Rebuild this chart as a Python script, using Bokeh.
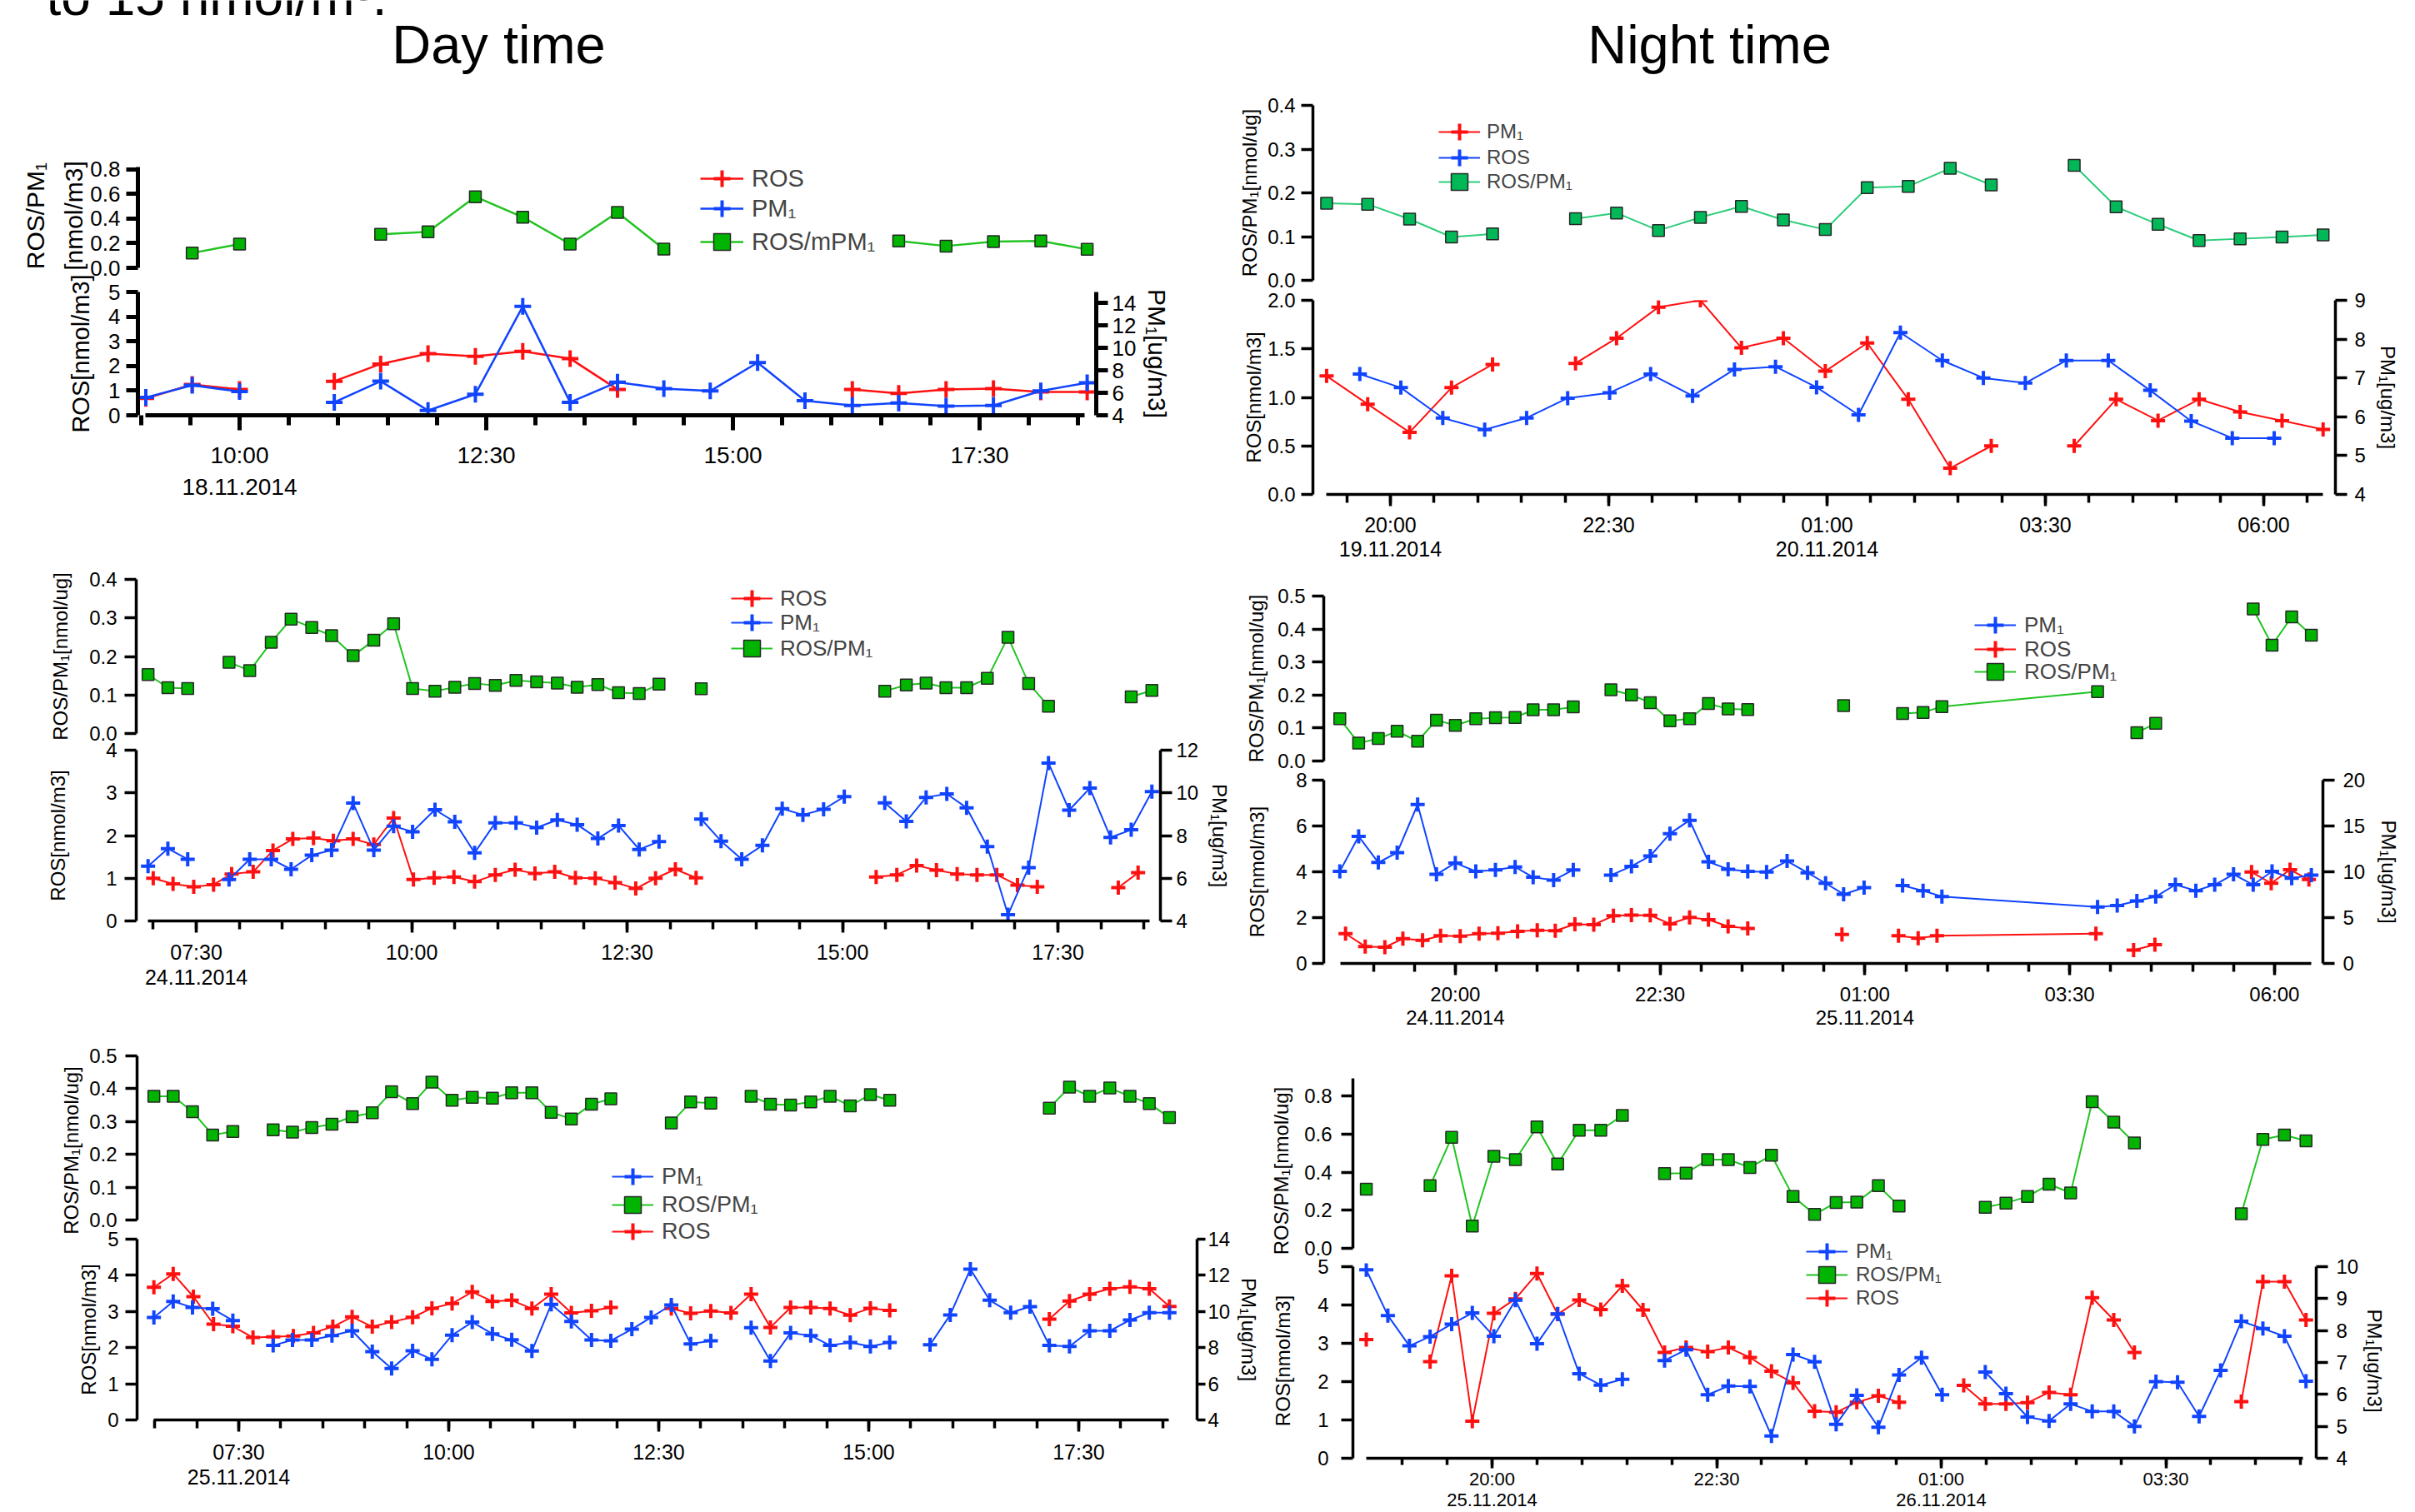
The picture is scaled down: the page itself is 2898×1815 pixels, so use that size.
import numpy as np
from bokeh.plotting import figure
from bokeh.models import (Range1d, LinearAxis, FixedTicker, PrintfTickFormatter,
                          Legend, LegendItem, Grid)
from bokeh.layouts import column, row
from bokeh.embed import file_html
from bokeh.resources import INLINE
from bokeh.core.properties import value

FONT = "Liberation Sans"
RED = "#ff1010"
BLUE = "#1044ff"
GREEN_LINE = "#22c422"
GREEN_FILL = "#00b400"
TEAL_LINE = "#2ccd7a"
TEAL_FILL = "#00b858"
EDGE = "#262626"

# ------------------------------------------------------------------ data
# times are clock hours; night values past midnight continue at 24+h
# --- 18.11.2014 (day)
A_t_ros = [9.05, 9.52, 10.00, None, 10.96, 11.43, 11.91, 12.39, 12.87, 13.35, 13.83, None,
           16.21, 16.68, 17.16, 17.64, 18.12, 18.59]
A_ros = [0.68, 1.25, 1.05, None, 1.38, 2.08, 2.50, 2.39, 2.59, 2.30, 1.05, None,
         1.05, 0.89, 1.05, 1.08, 0.95, 0.95]
A_t_pm = [9.05, 9.52, 10.00, None, 10.96, 11.43, 11.91, 12.39, 12.87, 13.35, 13.83, 14.30,
          14.77, 15.25, 15.73, 16.21, 16.68, 17.16, 17.64, 18.12, 18.59]
A_pm = [5.59, 6.67, 6.12, None, 5.16, 7.04, 4.43, 5.88, 13.71, 5.16, 6.96, 6.38,
        6.17, 8.70, 5.30, 4.87, 5.10, 4.81, 4.87, 6.17, 6.90]
A_t_ratio = [9.52, 10.00, None, 11.43, 11.91, 12.39, 12.87, 13.35, 13.83, 14.30, None,
             16.68, 17.16, 17.64, 18.12, 18.59]
A_ratio = [0.121, 0.193, None, 0.272, 0.293, 0.578, 0.412, 0.193, 0.451, 0.153, None,
           0.219, 0.177, 0.214, 0.219, 0.150]

# --- 19./20.11.2014 (night)
B_t_ros = [19.27, 19.74, 20.22, 20.70, 21.17, None, 22.12, 22.59, 23.07, 23.55, 24.02, 24.50,
           24.98, 25.46, 25.93, 26.41, 26.88, None, 27.83, 28.31, 28.79, 29.26, 29.73, 30.21, 30.68]
B_ros = [1.22, 0.93, 0.64, 1.10, 1.34, None, 1.35, 1.61, 1.93, 2.00, 1.51, 1.61,
         1.27, 1.56, 0.98, 0.27, 0.50, None, 0.50, 0.98, 0.76, 0.98, 0.85, 0.76, 0.67]
B_t_pm = [19.65, 20.12, 20.60, 21.08, 21.56, 22.03, 22.51, 22.98, 23.46, 23.94, 24.41, 24.88,
          25.36, 25.84, 26.32, 26.79, 27.27, 27.74, 28.22, 28.70, 29.17, 29.64, 30.12]
B_pm = [7.10, 6.75, 5.97, 5.67, 5.97, 6.48, 6.62, 7.10, 6.54, 7.22, 7.29, 6.76,
        6.05, 8.17, 7.45, 7.00, 6.87, 7.45, 7.45, 6.68, 5.89, 5.45, 5.45]
B_t_ratio = [19.27, 19.74, 20.22, 20.70, 21.17, None, 22.12, 22.59, 23.07, 23.55, 24.02, 24.50,
             24.98, 25.46, 25.93, 26.41, 26.88, None, 27.83, 28.31, 28.79, 29.26, 29.73, 30.21, 30.68]
B_ratio = [0.176, 0.174, 0.140, 0.099, 0.106, None, 0.141, 0.154, 0.114, 0.144, 0.169, 0.138,
           0.116, 0.212, 0.215, 0.256, 0.218, None, 0.263, 0.168, 0.128, 0.091, 0.095, 0.099, 0.104]

# --- 24.11.2014 (day)
C_t_ros = [7.00, 7.23, 7.47, 7.70, 7.91, 8.16, 8.39, 8.62, 8.86, 9.09, 9.32, 9.56, 9.79, 10.02,
           10.26, 10.49, 10.73, 10.97, 11.20, 11.43, 11.66, 11.90, 12.13, 12.36, 12.60, 12.83,
           13.06, 13.30, None, 15.39, 15.63, 15.86, 16.09, 16.33, 16.56, 16.79, 17.03, 17.26,
           None, 18.20, 18.43]
C_ros = [1.00, 0.87, 0.80, 0.85, 1.10, 1.15, 1.65, 1.92, 1.94, 1.88, 1.92, 1.79, 2.41, 0.97,
         1.01, 1.03, 0.92, 1.08, 1.20, 1.11, 1.15, 1.01, 1.00, 0.90, 0.76, 1.00,
         1.21, 1.01, None, 1.03, 1.08, 1.30, 1.19, 1.10, 1.08, 1.08, 0.84, 0.80,
         None, 0.78, 1.13]
C_t_pm = [6.94, 7.17, 7.40, None, 7.88, 8.12, 8.37, 8.60, 8.84, 9.07, 9.32, 9.56, 9.79, 10.01,
          10.27, 10.50, 10.73, 10.97, 11.21, 11.45, 11.69, 11.92, 12.16, 12.40, 12.64, 12.87,
          None, 13.36, 13.59, 13.83, 14.07, 14.30, 14.54, 14.78, 15.02, None, 15.49, 15.74,
          15.97, 16.21, 16.44, 16.68, 16.92, 17.16, 17.39, 17.63, 17.87, 18.11, 18.35, 18.59]
C_pm = [6.57, 7.39, 6.89, None, 5.94, 6.89, 6.89, 6.42, 7.08, 7.32, 9.52, 7.32, 8.44, 8.18,
        9.21, 8.64, 7.19, 8.60, 8.60, 8.37, 8.73, 8.51, 7.86, 8.47, 7.35, 7.72,
        None, 8.77, 7.74, 6.89, 7.54, 9.26, 8.97, 9.23, 9.82, None, 9.53, 8.66,
        9.79, 9.95, 9.30, 7.48, 4.29, 6.50, 11.40, 9.19, 10.22, 7.91, 8.27, 10.06]
C_t_ratio = [6.94, 7.17, 7.40, None, 7.88, 8.12, 8.37, 8.60, 8.84, 9.07, 9.32, 9.56, 9.79, 10.01,
             10.27, 10.50, 10.73, 10.97, 11.21, 11.45, 11.69, 11.92, 12.16, 12.40, 12.64, 12.87,
             None, 13.36, None, 15.49, 15.74, 15.97, 16.20, 16.44, 16.68, 16.92, 17.16, 17.39,
             None, 18.35, 18.59]
C_ratio = [0.153, 0.119, 0.117, None, 0.185, 0.163, 0.237, 0.297, 0.275, 0.254, 0.202, 0.242,
           0.285, 0.117, 0.110, 0.120, 0.130, 0.125, 0.138, 0.134, 0.131, 0.120, 0.127, 0.106,
           0.104, 0.128, None, 0.116, None, 0.110, 0.126, 0.131, 0.119, 0.119, 0.143, 0.250,
           0.130, 0.071, None, 0.095, 0.112]

# --- 24./25.11.2014 (night)
D_t_ros = [18.66, 18.90, 19.14, 19.36, 19.60, 19.82, 20.06, 20.29, 20.52, 20.76, 21.00, 21.22,
           21.46, 21.69, 21.93, 22.15, 22.38, 22.62, 22.86, 23.09, 23.33, 23.57, None, 24.72,
           None, 25.41, 25.65, 25.88, 27.82, None, 28.28, 28.54, None, 29.72, 29.96, 30.19, 30.42]
D_ros = [1.30, 0.74, 0.71, 1.08, 1.01, 1.21, 1.19, 1.30, 1.32, 1.40, 1.45, 1.43,
         1.71, 1.69, 2.08, 2.11, 2.10, 1.73, 2.01, 1.91, 1.62, 1.53, None, 1.26,
         None, 1.21, 1.10, 1.21, 1.30, None, 0.58, 0.82, None, 3.99, 3.50, 4.09, 3.66]
D_t_pm = [18.59, 18.82, 19.06, 19.29, 19.54, 19.77, 20.00, 20.25, 20.49, 20.73, 20.95, 21.20,
          21.44, None, 21.90, 22.15, 22.38, 22.62, 22.86, 23.09, 23.33, 23.57, 23.80, 24.05,
          24.30, 24.52, 24.74, 24.99, None, 25.46, 25.71, 25.94, 27.84, 28.08, 28.32, 28.55,
          28.79, 29.04, 29.27, 29.50, 29.74, 29.97, 30.21, 30.45]
D_pm = [10.05, 13.87, 11.02, 12.09, 17.34, 9.72, 10.96, 10.05, 10.21, 10.53, 9.40, 9.08,
        10.21, None, 9.63, 10.60, 11.73, 14.17, 15.62, 11.09, 10.28, 10.05, 9.98, 11.18,
        9.89, 8.75, 7.55, 8.27, None, 8.49, 7.94, 7.29, 6.16, 6.32, 6.81, 7.29,
        8.59, 7.94, 8.59, 9.72, 8.59, 10.05, 9.30, 9.63]
D_t_ratio = [18.59, 18.82, 19.06, 19.29, 19.54, 19.77, 20.00, 20.25, 20.49, 20.73, 20.95, 21.20,
             21.44, None, 21.90, 22.15, 22.38, 22.62, 22.86, 23.09, 23.33, 23.57, None, 24.74,
             None, 25.46, 25.71, 25.94, 27.84, None, 28.32, 28.55, None, 29.74, 29.97, 30.21, 30.45]
D_ratio = [0.128, 0.054, 0.068, 0.090, 0.060, 0.124, 0.108, 0.128, 0.131, 0.132, 0.155, 0.155,
           0.164, None, 0.216, 0.200, 0.177, 0.122, 0.128, 0.174, 0.158, 0.156, None, 0.168,
           None, 0.144, 0.147, 0.165, 0.210, None, 0.086, 0.114, None, 0.461, 0.351, 0.437, 0.381]

# --- 25.11.2014 (day)
E_t_ros = [6.49, 6.72, 6.96, 7.20, 7.43, 7.67, 7.91, 8.15, 8.39, 8.62, 8.85, 9.09, 9.32, 9.57,
           9.80, 10.04, 10.28, 10.52, 10.75, 10.99, 11.22, 11.46, 11.70, 11.93, None, 12.65,
           12.88, 13.12, 13.36, 13.60, 13.83, 14.07, 14.31, 14.54, 14.78, 15.02, 15.25, None,
           17.15, 17.39, 17.63, 17.87, 18.11, 18.34, 18.58]
E_ros = [3.67, 4.04, 3.41, 2.65, 2.59, 2.28, 2.30, 2.32, 2.41, 2.58, 2.85, 2.58, 2.71, 2.84,
         3.09, 3.22, 3.54, 3.28, 3.31, 3.08, 3.48, 2.96, 3.02, 3.11, None, 3.08,
         2.95, 3.01, 2.96, 3.48, 2.56, 3.11, 3.11, 3.08, 2.90, 3.09, 3.03, None,
         2.79, 3.29, 3.48, 3.63, 3.68, 3.63, 3.14]
E_t_pm = [6.49, 6.72, 6.95, 7.19, 7.43, None, 7.91, 8.14, 8.37, 8.61, 8.85, 9.09, 9.32, 9.57,
          9.80, 10.04, 10.28, 10.52, 10.75, 10.99, 11.22, 11.46, 11.70, 11.93, 12.18, 12.41,
          12.65, 12.88, 13.12, None, 13.60, 13.83, 14.07, 14.31, 14.54, 14.78, 15.02, 15.25,
          None, 15.73, 15.97, 16.21, 16.44, 16.69, 16.92, 17.15, 17.39, 17.63, 17.87, 18.11,
          18.34, 18.58]
E_pm = [9.67, 10.56, 10.22, 10.15, 9.50, None, 8.12, 8.42, 8.42, 8.67, 8.93, 7.78, 6.84, 7.83,
        7.35, 8.69, 9.41, 8.76, 8.43, 7.81, 10.39, 9.45, 8.42, 8.38, 9.02, 9.67,
        10.36, 8.21, 8.38, None, 9.10, 7.26, 8.81, 8.67, 8.12, 8.29, 8.07, 8.29,
        None, 8.16, 9.81, 12.34, 10.62, 9.93, 10.27, 8.12, 8.07, 8.93, 8.93, 9.53,
        9.93, 9.93]
E_t_ratio = [6.49, 6.72, 6.95, 7.19, 7.43, None, 7.91, 8.14, 8.37, 8.61, 8.85, 9.09, 9.32, 9.57,
             9.80, 10.04, 10.28, 10.52, 10.75, 10.99, 11.22, 11.46, 11.70, 11.93, None, 12.65,
             12.88, 13.12, None, 13.60, 13.83, 14.07, 14.31, 14.54, 14.78, 15.02, 15.25, None,
             17.15, 17.39, 17.63, 17.87, 18.11, 18.34, 18.58]
E_ratio = [0.377, 0.377, 0.330, 0.259, 0.270, None, 0.275, 0.268, 0.282, 0.292, 0.315, 0.327,
           0.391, 0.355, 0.420, 0.365, 0.374, 0.371, 0.388, 0.388, 0.328, 0.308, 0.353, 0.369,
           None, 0.296, 0.360, 0.356, None, 0.377, 0.353, 0.350, 0.360, 0.377, 0.348, 0.382,
           0.365, None, 0.341, 0.405, 0.377, 0.402, 0.377, 0.355, 0.312]

# --- 25./26.11.2014 (night)
F_t_ros = [18.60, None, 19.31, 19.55, 19.78, 20.02, 20.26, 20.50, 20.73, 20.97, 21.21, 21.45,
           21.68, 21.92, 22.16, 22.40, 22.63, 22.87, 23.11, 23.35, 23.59, 23.83, 24.06, 24.30,
           24.53, None, 25.25, 25.49, 25.72, 25.96, 26.20, 26.44, 26.68, 26.92, 27.15, None,
           28.34, 28.58, 28.82, 29.06]
F_ros = [3.10, None, 2.52, 4.76, 0.97, 3.78, 4.16, 4.82, 3.76, 4.13, 3.88, 4.50,
         3.87, 2.76, 2.89, 2.78, 2.89, 2.63, 2.27, 1.97, 1.23, 1.20, 1.46, 1.63,
         1.46, None, 1.90, 1.42, 1.42, 1.45, 1.72, 1.66, 4.19, 3.61, 2.76, None,
         1.48, 4.61, 4.61, 3.61]
F_t_pm = [18.60, 18.84, 19.08, 19.31, 19.55, 19.78, 20.02, 20.26, 20.50, 20.73, 20.97, 21.21,
          21.45, None, 21.92, 22.16, 22.40, 22.63, 22.87, 23.11, 23.35, 23.59, 23.83, 24.06,
          24.30, 24.53, 24.78, 25.01, None, 25.49, 25.72, 25.96, 26.20, 26.44, 26.68, 26.92,
          27.15, 27.39, 27.63, 27.87, 28.11, 28.34, 28.58, 28.82, 29.06]
F_pm = [9.90, 8.47, 7.52, 7.81, 8.20, 8.55, 7.82, 8.95, 7.59, 8.52, 6.65, 6.29,
        6.47, None, 7.06, 7.40, 5.99, 6.26, 6.25, 4.70, 7.25, 7.02, 5.06, 5.97,
        4.97, 6.61, 7.15, 5.99, None, 6.70, 6.02, 5.29, 5.17, 5.70, 5.47, 5.47,
        5.00, 6.40, 6.38, 5.31, 6.75, 8.29, 8.06, 7.82, 6.41]
F_t_ratio = [18.60, None, 19.31, 19.55, 19.78, 20.02, 20.26, 20.50, 20.73, 20.97, 21.21, 21.45,
             None, 21.92, 22.16, 22.40, 22.63, 22.87, 23.11, 23.35, 23.59, 23.83, 24.06, 24.30,
             24.53, None, 25.49, 25.72, 25.96, 26.20, 26.44, 26.68, 26.92, 27.15, None,
             28.34, 28.58, 28.82, 29.06]
F_ratio = [0.311, None, 0.329, 0.583, 0.117, 0.484, 0.466, 0.638, 0.443, 0.621, 0.621, 0.698,
           None, 0.393, 0.395, 0.466, 0.466, 0.425, 0.489, 0.273, 0.178, 0.241, 0.243, 0.329,
           0.222, None, 0.216, 0.238, 0.272, 0.337, 0.291, 0.770, 0.663, 0.554, None,
           0.182, 0.572, 0.595, 0.565]

# tick labels
DAY_MAJ = [7.5, 10.0, 12.5, 15.0, 17.5]
NIGHT_MAJ = [20.0, 22.5, 25.0, 27.5, 30.0]
A_xlab = ["10:00\n18.11.2014", "12:30", "15:00", "17:30"]
B_xlab = ["20:00\n19.11.2014", "22:30", "01:00\n20.11.2014", "03:30", "06:00"]
C_xlab = ["07:30\n24.11.2014", "10:00", "12:30", "15:00", "17:30"]
D_xlab = ["20:00\n24.11.2014", "22:30", "01:00\n25.11.2014", "03:30", "06:00"]
E_xlab = ["07:30\n25.11.2014", "10:00", "12:30", "15:00", "17:30"]
F_xlab = ["20:00\n25.11.2014", "22:30", "01:00\n26.11.2014", "03:30"]

GH = 50  # legend glyph box height


def arr(v):
    return np.array([np.nan if x is None else float(x) for x in v])


def steps(a, b, step):
    n = int(round((b - a) / step))
    return [round(a + i * step, 4) for i in range(n + 1)]


def clean(p):
    p.outline_line_color = None
    p.background_fill_alpha = 0
    p.border_fill_alpha = 0
    for g in p.select(type=Grid):
        g.visible = False


def style_y(ax, c, ticks, fmt, label, fs_label, std, bounds, tick_out=None, lh=1.2):
    ax.ticker = FixedTicker(ticks=ticks)
    ax.formatter = PrintfTickFormatter(format=fmt)
    ax.bounds = bounds
    ax.axis_label = label
    ax.axis_line_width = c["lw"]
    ax.axis_line_color = "black"
    ax.major_tick_line_width = c["lw"]
    ax.major_tick_line_color = "black"
    ax.major_tick_out = c["ytick"] if tick_out is None else tick_out
    ax.major_tick_in = 0
    ax.minor_tick_line_color = None
    ax.major_label_text_font = FONT
    ax.major_label_text_font_size = f"{c['yfs']}px"
    ax.major_label_text_color = "black"
    ax.major_label_standoff = std[0]
    ax.axis_label_text_font = FONT
    ax.axis_label_text_font_size = f"{fs_label}px"
    ax.axis_label_text_font_style = "normal"
    ax.axis_label_text_color = "black"
    ax.axis_label_standoff = std[1]
    ax.axis_label_text_line_height = lh


def dummies(host, kind, c):
    gl, gf = c["green"]
    nanv = [np.nan]
    if kind == "ratio":
        return [host.line(nanv, nanv, line_color=gl, line_width=c["lwd"]),
                host.scatter(nanv, nanv, marker="square", size=10, fill_color=gf,
                             line_color=EDGE, line_width=1.5)]
    col = RED if kind == "ros" else BLUE
    return [host.line(nanv, nanv, line_color=col, line_width=c["lwd"]),
            host.scatter(nanv, nanv, marker="cross", size=10, line_color=col, line_width=4)]


def build(c, d):
    t_ros, ros, t_pm, pmv, t_rat, rat = (arr(v) for v in d)
    xr = Range1d(*c["xr"])
    gl, gf = c["green"]

    # ---- upper panel: ROS / PM1 ratio
    pr = figure(width=c["w"], height=c["rh"], x_range=xr, y_range=Range1d(*c["rat_rng"]),
                x_axis_location=None, toolbar_location=None, output_backend="svg",
                min_border_left=c["bl"], min_border_right=c["br"],
                min_border_top=c["rt"], min_border_bottom=c["rb"])
    clean(pr)
    style_y(pr.yaxis[0], c, c["rat_ticks"], "%.1f", c["rat_label"], c["rlfs"], c["rat_std"],
            c["rat_bounds"], lh=1.4)
    pr.line(t_rat, rat, line_color=gl, line_width=c["lwd"])
    pr.scatter(t_rat, rat, marker="square", size=c["sq"], fill_color=gf,
               line_color=EDGE, line_width=1.5)

    # ---- lower panel: ROS (left axis) and PM1 (right axis)
    pm = figure(width=c["w"], height=c["mh"], x_range=xr, y_range=Range1d(*c["ros_rng"]),
                toolbar_location=None, output_backend="svg",
                min_border_left=c["bl"], min_border_right=c["br"],
                min_border_top=c["mt"], min_border_bottom=c["mb"])
    pm.extra_y_ranges = {"pm": Range1d(*c["pm_rng"])}
    pm.margin = (-c["ov"], 0, 0, 0)
    clean(pm)
    style_y(pm.yaxis[0], c, c["ros_ticks"], c["ros_fmt"], "ROS[nmol/m3]", c["mlfs"],
            c["ros_std"], c["ros_bounds"])
    ax_r = LinearAxis(y_range_name="pm")
    style_y(ax_r, c, c["pm_ticks"], "%d", "PM₁[ug/m3]", c["plfs"], c["pm_std"],
            c["pm_bounds"], tick_out=c.get("pm_tick"))
    pm.add_layout(ax_r, "right")

    xa = pm.xaxis[0]
    xa.ticker = FixedTicker(ticks=c["xmaj"], minor_ticks=c["xmin"])
    xa.major_label_overrides = {float(k): v for k, v in zip(c["xmaj"], c["xlab"])}
    xa.bounds = c["xbounds"]
    xa.axis_line_width = c["lw"]
    xa.major_tick_line_width = c["lw"]
    xa.minor_tick_line_width = c["lw"]
    xa.major_tick_out = c["xmo"]
    xa.major_tick_in = 0
    xa.minor_tick_out = c["xmi"]
    xa.minor_tick_in = 0
    xa.major_label_text_font = FONT
    xa.major_label_text_font_size = f"{c['xfs']}px"
    xa.major_label_text_color = "black"
    xa.major_label_standoff = c["xstd"]
    xa.major_label_text_line_height = c["xlh"]

    pm.line(t_ros, ros, line_color=RED, line_width=c["lwd"])
    pm.scatter(t_ros, ros, marker="cross", size=c["cross"], line_color=RED, line_width=4)
    pm.line(t_pm, pmv, line_color=BLUE, line_width=c["lwd"], y_range_name="pm")
    pm.scatter(t_pm, pmv, marker="cross", size=c["cross"], line_color=BLUE, line_width=4,
               y_range_name="pm")

    # ---- legend: one entry per Legend so each sits where the reference has it
    lg = c["legend"]
    for label, kind, where, cy in lg["items"]:
        host = pr if where == "r" else pm
        fb = c["r_fb"] if where == "r" else c["m_fb"]
        item = LegendItem(label=value(label), renderers=dummies(host, kind, c))
        legend = Legend(items=[item], location=(lg["x"], fb - cy - GH / 2),
                        orientation="vertical", padding=0, margin=0, spacing=0,
                        glyph_width=lg["gw"], glyph_height=GH, label_standoff=lg["std"],
                        border_line_color=None, background_fill_alpha=0,
                        label_text_font=FONT, label_text_font_size=f"{lg['fs']}px")
        host.add_layout(legend, "center")
    return column(pr, pm)


COMMON = dict(lw=3.5, ytick=14, yfs=24, rlfs=24, mlfs=24, plfs=24, xmo=14, xmi=10, xfs=25,
              lwd=2, cross=17, sq=14, green=(GREEN_LINE, GREEN_FILL))

cfgA = dict(COMMON, w=1450, bl=165, br=135, rh=237, rt=96, rb=16, mh=356, mt=30, mb=178, ov=17,
            r_fb=321, m_fb=498, xr=(8.970, 18.682), xbounds=(9.046, 18.564),
            rat_rng=(0, 0.847), rat_bounds=(0, 0.82), rat_ticks=steps(0, 0.8, 0.2),
            rat_label="ROS/PM₁\n[nmol/m3]",
            ros_rng=(0, 5), ros_bounds=(0, 5), ros_ticks=steps(0, 5, 1), ros_fmt="%d",
            pm_rng=(4, 15), pm_bounds=(4, 15), pm_ticks=steps(4, 14, 2),
            lw=5, yfs=26, rlfs=30, mlfs=29, plfs=30, rat_std=(7, 0), ros_std=(7, 14), pm_std=(5, 6),
            xmaj=[10.0, 12.5, 15.0, 17.5], xlab=A_xlab, xmin=steps(9.0, 18.5, 0.5),
            xmo=18, xmi=12, xfs=28, xstd=14, xlh=1.25, lwd=2.5, cross=20,
            legend=dict(x=675, gw=52, std=10, fs=29,
                        items=[("ROS", "ros", "r", 214), ("PM₁", "pm", "r", 250),
                               ("ROS/mPM₁", "ratio", "r", 290)]))

cfgB = dict(COMMON, w=1448, bl=125, br=96, rh=252, rt=26, rb=16, mh=332, mt=16, mb=83, ov=8,
            r_fb=336, m_fb=593, xr=(19.113, 30.821), xbounds=(19.265, 30.678),
            rat_rng=(0, 0.4), rat_bounds=(0, 0.4), rat_ticks=steps(0, 0.4, 0.1),
            rat_label="ROS/PM₁[nmol/ug]",
            ros_rng=(0, 2), ros_bounds=(0, 2), ros_ticks=steps(0, 2, 0.5), ros_fmt="%.1f",
            pm_rng=(4, 9), pm_bounds=(4, 9), pm_ticks=steps(4, 9, 1),
            rat_std=(7, 5), ros_std=(7, 0), pm_std=(9, 10),
            xmaj=NIGHT_MAJ, xlab=B_xlab, xmin=steps(19.5, 30.5, 0.5), xstd=8, xlh=1.05,
            green=(TEAL_LINE, TEAL_FILL),
            legend=dict(x=151, gw=50, std=8, fs=24,
                        items=[("PM₁", "ros", "r", 158), ("ROS", "pm", "r", 189),
                               ("ROS/PM₁", "ratio", "r", 218)]))

cfgC = dict(COMMON, w=1485, bl=163, br=93, rh=220, rt=19, rb=16, mh=359, mt=16, mb=138, ov=12,
            r_fb=880, m_fb=1105, xr=(6.803, 18.689), xbounds=(6.938, 18.568),
            rat_rng=(0, 0.4), rat_bounds=(0, 0.4), rat_ticks=steps(0, 0.4, 0.1),
            rat_label="ROS/PM₁[nmol/ug]",
            ros_rng=(0, 4), ros_bounds=(0, 4), ros_ticks=steps(0, 4, 1), ros_fmt="%d",
            pm_rng=(4, 12), pm_bounds=(4, 12), pm_ticks=steps(4, 12, 2),
            rat_std=(9, 18), ros_std=(9, 41), pm_std=(5, 9),
            xmaj=DAY_MAJ, xlab=C_xlab, xmin=steps(7.0, 18.5, 0.5), xstd=9, xlh=1.1,
            legend=dict(x=714, gw=50, std=9, fs=26,
                        items=[("ROS", "ros", "r", 718), ("PM₁", "pm", "r", 747),
                               ("ROS/PM₁", "ratio", "r", 778)]))

cfgD = dict(COMMON, w=1413, bl=103, br=111, rh=253, rt=39, rb=16, mh=323, mt=16, mb=87, ov=9,
            r_fb=913, m_fb=1156, xr=(18.394, 30.591), xbounds=(18.593, 30.445),
            rat_rng=(0, 0.5), rat_bounds=(0, 0.5), rat_ticks=steps(0, 0.5, 0.1),
            rat_label="ROS/PM₁[nmol/ug]",
            ros_rng=(0, 8), ros_bounds=(0, 8), ros_ticks=steps(0, 8, 2), ros_fmt="%d",
            pm_rng=(0, 20), pm_bounds=(0, 20), pm_ticks=steps(0, 20, 5),
            rat_std=(8, 9), ros_std=(6, 30), pm_std=(10, 12),
            xmaj=NIGHT_MAJ, xlab=D_xlab, xmin=steps(19.0, 30.0, 0.5), xfs=24, xstd=9, xlh=1.04,
            legend=dict(x=781, gw=50, std=10, fs=26,
                        items=[("PM₁", "pm", "r", 750), ("ROS", "ros", "r", 779),
                               ("ROS/PM₁", "ratio", "r", 806)]))

cfgE = dict(COMMON, w=1518, bl=164, br=82, rh=251, rt=24, rb=0, mh=349, mt=21, mb=111, ov=28,
            r_fb=1494, m_fb=1704, xr=(6.290, 18.909), xbounds=(6.485, 18.576),
            rat_rng=(-0.0761, 0.5), rat_bounds=(0, 0.5), rat_ticks=steps(0, 0.5, 0.1),
            rat_label="ROS/PM₁[nmol/ug]",
            ros_rng=(0, 5), ros_bounds=(0, 5), ros_ticks=steps(0, 5, 1), ros_fmt="%d",
            pm_rng=(4, 14), pm_bounds=(4, 14), pm_ticks=steps(4, 14, 2), pm_tick=10,
            rat_std=(10, 5), ros_std=(8, 6), pm_std=(3, 6),
            xmaj=DAY_MAJ, xlab=E_xlab, xmin=steps(6.5, 18.5, 0.5), xstd=10, xlh=1.1,
            legend=dict(x=570, gw=50, std=10, fs=27,
                        items=[("PM₁", "pm", "r", 1412), ("ROS/PM₁", "ratio", "r", 1446),
                               ("ROS", "ros", "r", 1478)]))

cfgF = dict(COMMON, w=1380, bl=105, br=119, rh=273, rt=51, rb=0, mh=309, mt=10, mb=65, ov=10,
            r_fb=1516, m_fb=1750, xr=(18.451, 29.174), xbounds=(18.599, 29.026),
            rat_rng=(-0.0788, 0.893), rat_bounds=(0, 0.893), rat_ticks=steps(0, 0.8, 0.2),
            rat_label="ROS/PM₁[nmol/ug]",
            ros_rng=(0, 5.087), ros_bounds=(0, 5), ros_ticks=steps(0, 5, 1), ros_fmt="%d",
            pm_rng=(4, 10.104), pm_bounds=(4, 10), pm_ticks=steps(4, 10, 1),
            rat_std=(11, 11), ros_std=(15, 25), pm_std=(10, 3),
            xmaj=NIGHT_MAJ[:4], xlab=F_xlab, xmin=steps(19.0, 29.0, 0.5),
            xmo=12, xmi=8, xfs=22, xstd=0, xlh=1.0,
            legend=dict(x=544, gw=50, std=10, fs=24,
                        items=[("PM₁", "pm", "r", 1502), ("ROS/PM₁", "ratio", "m", 1530),
                               ("ROS", "ros", "m", 1558)]))

pA = build(cfgA, (A_t_ros, A_ros, A_t_pm, A_pm, A_t_ratio, A_ratio))
pB = build(cfgB, (B_t_ros, B_ros, B_t_pm, B_pm, B_t_ratio, B_ratio))
pC = build(cfgC, (C_t_ros, C_ros, C_t_pm, C_pm, C_t_ratio, C_ratio))
pD = build(cfgD, (D_t_ros, D_ros, D_t_pm, D_pm, D_t_ratio, D_ratio))
pE = build(cfgE, (E_t_ros, E_ros, E_t_pm, E_pm, E_t_ratio, E_ratio))
pF = build(cfgF, (F_t_ros, F_ros, F_t_pm, F_pm, F_t_ratio, F_ratio))

# ---- header with the two section titles (and the cropped line of text above them)
hdr = figure(width=2898, height=100, x_range=Range1d(0, 2898), y_range=Range1d(100, 0),
             x_axis_location=None, y_axis_location=None, toolbar_location=None,
             output_backend="svg", min_border=0)
clean(hdr)
hdr.text(x=[598, 2051], y=[53, 53], text=["Day time", "Night time"], text_font=value(FONT),
         text_font_size="65px", text_align="center", text_baseline="alphabetic",
         text_color="black")
hdr.text(x=[55], y=[-5], text=["to 15 nmol/m³."], text_font=value(FONT),
         text_font_size="64px", text_align="left", text_baseline="alphabetic",
         text_color="black")

layout = column(hdr, row(pA, pB), row(pC, pD), row(pE, pF))

open("out.html", "w").write(file_html(layout, INLINE))
